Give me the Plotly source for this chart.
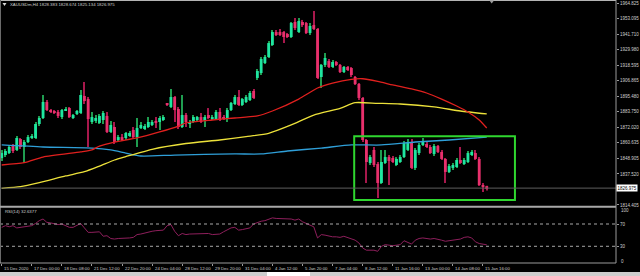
import plotly.graph_objects as go

# ---------------- data ----------------
symbol = "XAUUSDm,H4"
time_labels = ["15 Dec 2020", "17 Dec 00:00", "18 Dec 08:00", "21 Dec 12:00", "22 Dec 20:00",
               "24 Dec 04:00", "28 Dec 12:00", "29 Dec 20:00", "31 Dec 04:00", "4 Jan 12:00",
               "5 Jan 20:00", "7 Jan 04:00", "8 Jan 12:00", "11 Jan 16:00", "13 Jan 00:00",
               "14 Jan 08:00", "15 Jan 16:00"]
bars_per_label = 8

opens = [1849.4, 1851.6, 1853.1, 1858.3, 1855.4, 1863.5, 1857.6, 1861.3, 1865.0, 1864.3,
         1874.7, 1879.2, 1891.1, 1885.1, 1884.4, 1883.7, 1879.9, 1885.1, 1886.6, 1879.2,
         1882.2, 1882.9, 1895.6, 1893.3, 1876.2, 1877.0, 1875.5, 1877.7, 1880.7, 1868.8,
         1872.5, 1862.8, 1865.0, 1864.3, 1865.8, 1870.3, 1865.0, 1871.7, 1871.0, 1872.5,
         1874.0, 1877.0, 1876.2, 1877.7, 1889.6, 1887.4, 1894.8, 1885.9, 1872.5, 1881.4,
         1874.7, 1876.2, 1877.7, 1879.9, 1877.0, 1881.4, 1878.4, 1878.4, 1883.7, 1879.9,
         1879.2, 1885.1, 1889.6, 1894.8, 1888.9, 1891.1, 1892.6, 1899.3, 1909.0, 1912.7,
         1920.1, 1924.6, 1933.5, 1943.2, 1943.2, 1943.2, 1941.7, 1939.5, 1950.7, 1943.2,
         1950.7, 1949.9, 1942.5, 1948.4, 1945.5, 1909.7, 1918.7, 1921.6, 1917.2, 1920.9,
         1918.7, 1913.4, 1917.2, 1916.4, 1909.7, 1904.5, 1894.1, 1862.8, 1845.7, 1855.4,
         1844.9, 1830.8, 1845.7, 1850.1, 1849.4, 1844.2, 1846.4, 1850.1, 1855.4, 1861.3,
         1842.0, 1853.1, 1859.1, 1859.8, 1857.6, 1852.4, 1858.3, 1853.9, 1848.7, 1839.0,
         1842.0, 1842.7, 1847.9, 1844.9, 1846.4, 1851.6, 1853.1, 1848.7, 1829.3, 1828.383]

highs = [1855.4, 1856.1, 1859.1, 1859.8, 1865.8, 1864.3, 1862.8, 1866.5, 1867.3, 1876.2,
         1880.7, 1896.3, 1892.6, 1885.9, 1885.1, 1885.1, 1885.9, 1887.4, 1887.4, 1882.2,
         1885.1, 1900.0, 1906.0, 1894.8, 1883.7, 1881.4, 1882.2, 1884.4, 1883.7, 1877.0,
         1876.2, 1866.5, 1867.3, 1868.8, 1869.5, 1872.5, 1879.2, 1876.2, 1874.7, 1879.9,
         1877.7, 1879.9, 1880.7, 1881.4, 1890.4, 1900.8, 1895.6, 1887.4, 1896.3, 1882.9,
         1877.7, 1881.4, 1880.7, 1882.9, 1881.4, 1886.6, 1881.4, 1885.1, 1886.6, 1881.4,
         1886.6, 1891.1, 1896.3, 1900.0, 1894.1, 1896.3, 1899.3, 1900.8, 1915.7, 1924.6,
         1926.1, 1936.5, 1944.7, 1944.7, 1945.5, 1944.0, 1942.5, 1950.7, 1953.7, 1953.7,
         1952.2, 1950.7, 1949.9, 1958.9, 1946.2, 1919.4, 1927.6, 1923.1, 1922.4, 1921.6,
         1919.4, 1917.9, 1917.9, 1917.2, 1910.5, 1905.2, 1894.8, 1863.5, 1851.6, 1857.6,
         1846.4, 1855.4, 1855.4, 1851.6, 1850.9, 1850.1, 1851.6, 1862.1, 1863.5, 1863.5,
         1856.8, 1860.6, 1864.3, 1861.3, 1859.1, 1859.8, 1859.1, 1855.4, 1849.4, 1844.9,
         1845.7, 1849.4, 1857.6, 1849.4, 1854.6, 1855.4, 1855.4, 1850.1, 1830.8, 1828.674]

lows = [1847.2, 1850.1, 1852.4, 1853.1, 1854.6, 1856.1, 1845.7, 1860.6, 1863.5, 1863.5,
        1873.2, 1878.4, 1884.4, 1882.9, 1882.2, 1879.2, 1878.4, 1884.4, 1879.2, 1878.4,
        1881.4, 1882.2, 1889.6, 1857.6, 1874.7, 1875.5, 1874.7, 1874.7, 1868.0, 1868.0,
        1859.8, 1862.1, 1862.1, 1862.8, 1865.0, 1864.3, 1857.6, 1871.0, 1870.3, 1871.7,
        1873.2, 1871.7, 1870.3, 1877.0, 1888.1, 1886.6, 1876.2, 1871.0, 1871.7, 1872.5,
        1871.7, 1875.5, 1877.0, 1875.5, 1872.5, 1878.4, 1877.7, 1877.7, 1877.0, 1877.7,
        1876.2, 1884.4, 1888.9, 1888.1, 1888.1, 1890.4, 1891.8, 1893.3, 1907.5, 1911.2,
        1919.4, 1923.9, 1932.8, 1940.2, 1940.2, 1935.0, 1938.8, 1938.8, 1944.7, 1942.5,
        1947.0, 1941.7, 1941.0, 1944.7, 1908.2, 1901.5, 1917.2, 1916.4, 1916.4, 1917.9,
        1912.7, 1912.7, 1914.2, 1909.7, 1903.8, 1892.6, 1861.3, 1830.8, 1844.2, 1842.7,
        1819.6, 1830.0, 1844.9, 1829.3, 1845.7, 1843.4, 1845.7, 1849.4, 1854.6, 1841.2,
        1840.5, 1851.6, 1858.3, 1856.8, 1852.4, 1850.9, 1853.1, 1847.9, 1830.8, 1838.2,
        1840.5, 1842.0, 1844.9, 1844.2, 1845.7, 1850.9, 1847.9, 1828.6, 1824.1, 1825.134]

closes = [1853.1, 1854.6, 1857.6, 1854.6, 1864.3, 1857.6, 1861.3, 1865.0, 1865.8, 1874.7,
          1879.2, 1891.1, 1885.1, 1883.7, 1882.9, 1880.7, 1885.1, 1885.9, 1879.9, 1881.4,
          1884.4, 1896.3, 1891.8, 1878.4, 1879.9, 1879.2, 1880.7, 1882.9, 1868.8, 1874.0,
          1861.3, 1865.0, 1862.8, 1868.0, 1868.0, 1865.0, 1871.7, 1874.0, 1873.2, 1876.2,
          1876.2, 1875.5, 1879.2, 1879.9, 1888.9, 1894.8, 1885.1, 1872.5, 1881.4, 1876.2,
          1876.2, 1879.9, 1879.9, 1876.2, 1879.9, 1879.2, 1879.9, 1883.7, 1877.7, 1878.4,
          1885.1, 1890.4, 1894.8, 1888.9, 1893.3, 1894.8, 1897.8, 1894.1, 1914.2, 1923.1,
          1924.6, 1935.0, 1943.2, 1941.0, 1941.0, 1939.5, 1939.5, 1949.9, 1946.2, 1951.4,
          1948.4, 1942.5, 1947.7, 1945.5, 1909.0, 1918.7, 1923.9, 1917.2, 1920.9, 1918.7,
          1913.4, 1917.2, 1914.9, 1911.2, 1904.5, 1894.1, 1862.8, 1846.4, 1850.1, 1844.2,
          1830.8, 1846.4, 1850.1, 1847.2, 1846.4, 1848.7, 1850.1, 1860.6, 1860.6, 1842.0,
          1855.4, 1859.1, 1861.3, 1857.6, 1853.1, 1858.3, 1853.9, 1848.7, 1839.0, 1843.4,
          1844.2, 1847.9, 1845.7, 1847.9, 1853.1, 1853.9, 1848.7, 1829.3, 1827.8, 1826.975]

# moving averages read at selected bars
ma_red_bar = [0, 6, 11, 21, 24, 26, 30, 36, 42, 47, 49, 56, 62, 68, 72, 79, 84, 88, 93, 96,
              100, 104, 109, 113, 117, 121, 124, 127, 129]
ma_red = [1844.2, 1845.9, 1850.1, 1853.9, 1855.4, 1858.3, 1861.3, 1864.3, 1868.8, 1873.2,
          1875.5, 1877.7, 1879.2, 1880.7, 1884.4, 1893.3, 1901.5, 1905.2, 1908.0, 1908.4,
          1906.4, 1903.8, 1900.8, 1897.8, 1893.3, 1888.1, 1883.7, 1877.7, 1871.7]

ma_yellow_bar = [0, 5, 10, 17, 22, 26, 30, 33, 40, 49, 58, 65, 71, 77, 83, 90, 94, 100, 106,
                 115, 122, 129]
ma_yellow = [1826.8, 1828.0, 1831.0, 1836.0, 1839.2, 1843.4, 1847.9, 1850.4, 1855.9, 1860.2,
             1862.8, 1865.3, 1867.8, 1874.0, 1881.4, 1886.4, 1890.6, 1890.1, 1889.6, 1887.4,
             1884.4, 1882.2]

ma_blue_bar = [0, 11, 24, 29, 33, 37, 46, 62, 69, 76, 85, 93, 101, 110, 119, 129]
ma_blue = [1859.1, 1857.6, 1856.8, 1855.4, 1853.1, 1850.9, 1851.6, 1852.4, 1852.4, 1854.6,
           1856.8, 1859.1, 1859.1, 1861.3, 1862.8, 1865.0]

rsi = [64, 67, 65, 67, 63, 64, 66, 67, 67, 71,
       76, 79, 73, 72, 70, 69, 70, 67, 64, 64,
       68, 71, 63, 55, 55, 55, 56, 48, 49, 44,
       43, 44, 44, 45, 45, 46, 51, 52, 54, 55,
       57, 58, 59, 59, 67, 69, 57, 49, 53, 51,
       52, 52, 52, 52, 52, 53, 51, 51, 52, 56,
       59, 63, 64, 59, 60, 62, 63, 70, 73, 75,
       76, 78, 81, 80, 80, 79, 80, 79, 77, 79,
       74, 71, 69, 65, 45, 51, 50, 48, 47, 47,
       46, 48, 46, 44, 41, 36, 27, 23, 23, 23,
       21, 30, 33, 32, 31, 32, 33, 40, 37, 34,
       41, 44, 45, 44, 43, 44, 43, 41, 39, 40,
       41, 42, 43, 46, 47, 45, 38, 35, 34, 32.6377]
rsi_levels = [70, 30]

price_ticks = [1964.825, 1953.095, 1941.710, 1929.980, 1918.595, 1906.865, 1895.480,
               1883.750, 1872.020, 1860.635, 1848.905, 1837.520, 1814.405]

box_bars = [93.75, 136.5]
box_prices = [1818.1, 1865.6]

# ---------------- style ----------------
BULL_BODY, BULL_WICK = "#1fe6a0", "#1f9d50"
BEAR_BODY, BEAR_WICK = "#e8306c", "#a8184c"
AX = "#9a9a9a"
TXT = "#cfcfcf"
FONT = "Liberation Sans, Arial, sans-serif"

W, H = 640, 276
ML, MR, MT, MB = 0, 24, 0, 13
PW, PH = W - ML - MR, H - MT - MB


def px(x):
    return (x - ML) / PW


def py(y):
    return (H - MB - y) / PH


n = len(closes)
bars = list(range(n))
up = [c >= o for o, c in zip(opens, closes)]
wick_len = [h - l for h, l in zip(highs, lows)]
body_base = [min(o, c) for o, c in zip(opens, closes)]
body_len = [max(abs(c - o), 0.8) for o, c in zip(opens, closes)]

fig = go.Figure()
fig.add_trace(go.Bar(x=bars, y=wick_len, base=lows, width=0.27,
                     marker=dict(color=[BULL_WICK if u else BEAR_WICK for u in up], line=dict(width=0)),
                     xaxis="x", yaxis="y", hoverinfo="skip", showlegend=False))
fig.add_trace(go.Bar(x=bars, y=body_len, base=body_base, width=0.76,
                     marker=dict(color=[BULL_BODY if u else BEAR_BODY for u in up], line=dict(width=0)),
                     xaxis="x", yaxis="y", hoverinfo="skip", showlegend=False))

for bx, vals, col in [(ma_blue_bar, ma_blue, "#2f9fd8"),
                      (ma_yellow_bar, ma_yellow, "#ece13a"),
                      (ma_red_bar, ma_red, "#e0201e")]:
    fig.add_trace(go.Scatter(x=bx, y=vals, mode="lines",
                             line=dict(color=col, width=1.3, shape="spline", smoothing=0.6),
                             xaxis="x", yaxis="y", hoverinfo="skip", showlegend=False))

fig.add_trace(go.Scatter(x=bars, y=rsi, mode="lines", line=dict(color="#8e1f5c", width=1),
                         xaxis="x", yaxis="y2", hoverinfo="skip", showlegend=False))

# price range of the main panel (pixel rows 0..206)
main_top_px, main_bot_px = 0, 206
rsi_top_px, rsi_bot_px = 207.3, 263
per_px = 0.7447
top_price = 1964.825 + 3 * per_px
main_range = [top_price - per_px * main_bot_px, top_price]

bar_px0, bar_step = 1.7, 3.76
x_range = [(0 - bar_px0) / bar_step, (PW - bar_px0) / bar_step]

shapes = []
# green rectangle
shapes.append(dict(type="rect", xref="x", yref="y", x0=box_bars[0], x1=box_bars[1],
                   y0=box_prices[0], y1=box_prices[1], line=dict(color="#2fd62f", width=2),
                   fillcolor="rgba(0,0,0,0)"))
# bid line
shapes.append(dict(type="line", xref="paper", yref="y", x0=0, x1=1, y0=closes[-1], y1=closes[-1],
                   line=dict(color="#5e5e5e", width=1)))
# rsi levels
for lv in rsi_levels:
    shapes.append(dict(type="line", xref="paper", yref="y2", x0=0, x1=1, y0=lv, y1=lv,
                       line=dict(color="#a8a8a8", width=1, dash="dot")))
# frame
shapes += [
    dict(type="line", xref="paper", yref="paper", x0=0, x1=1, y0=py(0.5), y1=py(0.5),
         line=dict(color="#b4b4b4", width=1)),
    dict(type="line", xref="paper", yref="paper", x0=px(0.5), x1=px(0.5), y0=py(0), y1=py(263),
         line=dict(color="#6a6a6a", width=1)),
    dict(type="line", xref="paper", yref="paper", x0=0, x1=1, y0=py(206.8), y1=py(206.8),
         line=dict(color="#a8a8a8", width=2)),
    dict(type="line", xref="paper", yref="paper", x0=0, x1=1, y0=py(263), y1=py(263),
         line=dict(color=AX, width=1)),
    dict(type="line", xref="paper", yref="paper", x0=px(616), x1=px(616), y0=py(0), y1=py(263),
         line=dict(color=AX, width=1)),
    # bottom window strip and tab
    dict(type="rect", xref="paper", yref="paper", x0=px(0), x1=px(640), y0=py(272), y1=py(276.5),
         line=dict(width=0), fillcolor="#cdcdcd"),
    dict(type="rect", xref="paper", yref="paper", x0=px(267), x1=px(310), y0=py(272), y1=py(276.5),
         line=dict(width=0), fillcolor="#ffffff"),
    # small markers
    dict(type="path", xref="paper", yref="paper",
         path=f"M {px(2.5)},{py(3)} L {px(6.5)},{py(3)} L {px(4.5)},{py(6)} Z",
         line=dict(width=0), fillcolor="#d8d8d8"),
    dict(type="path", xref="paper", yref="paper",
         path=f"M {px(489.5)},{py(0.5)} L {px(494)},{py(0.5)} L {px(491.7)},{py(3.5)} Z",
         line=dict(width=0), fillcolor="#9a9a9a"),
]

annotations = []
title_text = f"{symbol} {opens[-1]:.3f} {highs[-1]:.3f} {lows[-1]:.3f} {closes[-1]:.3f}"
annotations.append(dict(text=title_text, xref="paper", yref="paper", x=px(8), y=py(4.6),
                        xanchor="left", yanchor="middle", showarrow=False,
                        font=dict(family=FONT, size=4.3, color=TXT)))
annotations.append(dict(text=f"RSI(14) {rsi[-1]:.4f}", xref="paper", yref="paper", x=px(3),
                        y=py(211), xanchor="left", yanchor="middle", showarrow=False,
                        font=dict(family=FONT, size=4.3, color=TXT)))
for k, lab in enumerate(time_labels):
    annotations.append(dict(text=lab, xref="x", yref="paper", x=k * bars_per_label, y=py(268.3),
                            xanchor="left", yanchor="middle", xshift=0.5, showarrow=False,
                            font=dict(family=FONT, size=4.3, color=TXT)))
annotations.append(dict(text=f"{closes[-1]:.3f}", xref="paper", yref="y", x=px(616.5), y=closes[-1],
                        xanchor="left", yanchor="middle", showarrow=False, bgcolor="#ffffff",
                        borderpad=0.6, font=dict(family=FONT, size=4.5, color="#000000")))
for val, ypix in [(100, 210.3), (0, 261)]:
    annotations.append(dict(text=str(val), xref="paper", yref="paper", x=px(618.5), y=py(ypix),
                            xanchor="left", yanchor="middle", showarrow=False,
                            font=dict(family=FONT, size=4.5, color=TXT)))

fig.update_layout(
    template="none",
    width=W, height=H, autosize=False,
    margin=dict(l=ML, r=MR, t=MT, b=MB, pad=0),
    paper_bgcolor="#000000", plot_bgcolor="#000000",
    barmode="overlay", showlegend=False, hovermode=False,
    xaxis=dict(domain=[0, 1], anchor="y2", range=x_range,
               tickvals=[k * bars_per_label for k in range(len(time_labels))],
               showticklabels=False, ticks="outside", ticklen=2, tickcolor=AX, tickwidth=1,
               showgrid=False, zeroline=False, showline=False, fixedrange=True, automargin=False),
    yaxis=dict(domain=[py(main_bot_px), 1], anchor="x", range=main_range, side="right",
               tickvals=price_ticks, ticktext=[f"{v:.3f}" for v in price_ticks],
               ticks="outside", ticklen=2, tickcolor=AX, tickwidth=1,
               tickfont=dict(family=FONT, size=4.5, color=TXT),
               showgrid=False, zeroline=False, showline=False, automargin=False),
    yaxis2=dict(domain=[0, py(rsi_top_px)], anchor="x", range=[0, 100], side="right",
                tickvals=rsi_levels, ticktext=[str(v) for v in rsi_levels],
                ticks="outside", ticklen=2, tickcolor=AX, tickwidth=1,
                tickfont=dict(family=FONT, size=4.5, color=TXT),
                showgrid=False, zeroline=False, showline=False, automargin=False),
    shapes=shapes, annotations=annotations,
)

fig.write_html("out.html", config={"displayModeBar": False, "staticPlot": False})
